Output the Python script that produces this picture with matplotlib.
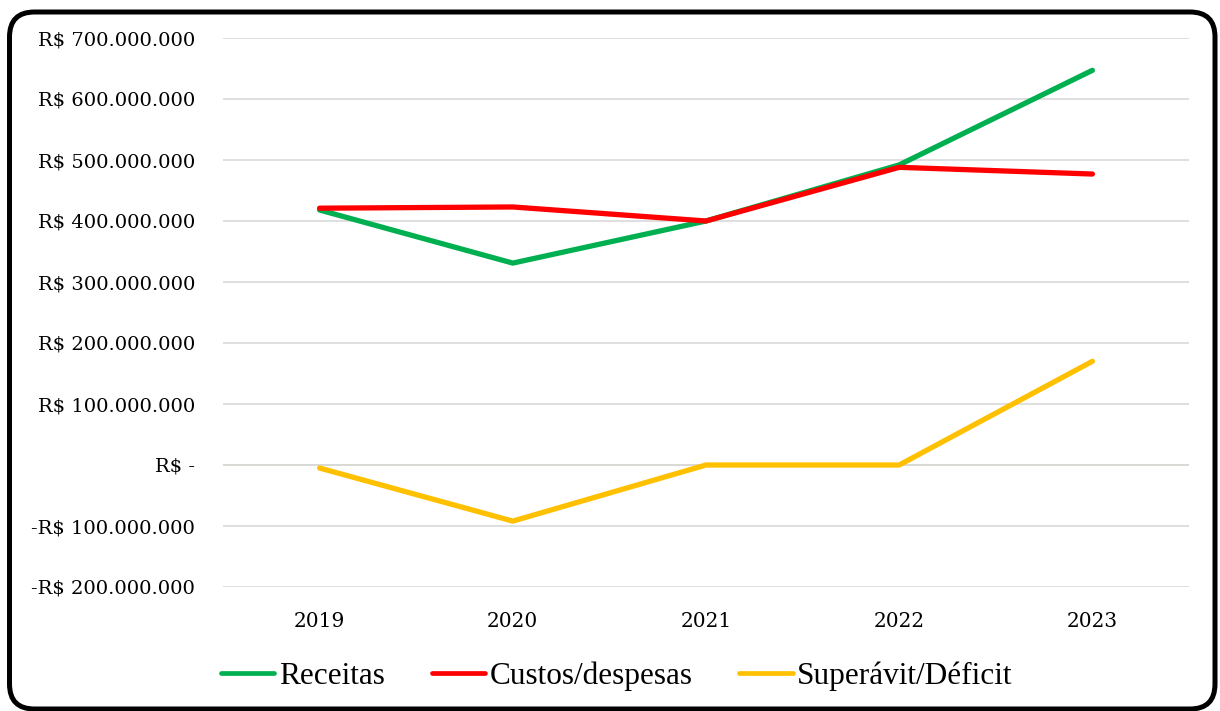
import matplotlib
matplotlib.use("Agg")
import matplotlib.pyplot as plt
from matplotlib.patches import FancyBboxPatch
from matplotlib.ticker import FuncFormatter

years = ["2019", "2020", "2021", "2022", "2023"]
receitas = [418e6, 331e6, 400e6, 492e6, 647e6]
custos = [421e6, 423e6, 400e6, 488e6, 477e6]
superavit = [-5e6, -92e6, 0, 0, 170e6]
yticks = [-200e6, -100e6, 0, 100e6, 200e6, 300e6, 400e6, 500e6, 600e6, 700e6]


def brl(v, pos=None):
    if v == 0:
        return "R$ -"
    s = f"{abs(v):,.0f}".replace(",", ".")
    return ("-R$ " if v < 0 else "R$ ") + s


fig = plt.figure(figsize=(12.2, 7.11), dpi=100)
ax = fig.add_axes([223 / 1220, 124 / 711, 966 / 1220, 549 / 711])

x = range(len(years))
ax.plot(x, receitas, color="#00B050", lw=3.8, solid_capstyle="round", solid_joinstyle="round",
        label="Receitas", zorder=3)
ax.plot(x, custos, color="#FF0000", lw=3.8, solid_capstyle="round", solid_joinstyle="round",
        label="Custos/despesas", zorder=4)
ax.plot(x, superavit, color="#FFC000", lw=3.8, solid_capstyle="round", solid_joinstyle="round",
        label="Superávit/Déficit", zorder=3)

ax.set_xlim(-0.5, len(years) - 0.5)
ax.set_ylim(yticks[0], yticks[-1])
ax.set_yticks(yticks)
ax.yaxis.set_major_formatter(FuncFormatter(brl))
ax.set_xticks(list(x))
ax.set_xticklabels(years)
ax.grid(axis="y", color="#d9d9d9", lw=1.2, zorder=0)
ax.axhline(0, color="#ddd8c4", lw=1.4, zorder=1)
for s in ax.spines.values():
    s.set_visible(False)
ax.tick_params(axis="y", length=0, labelsize=14, pad=20)
ax.tick_params(axis="x", length=0, labelsize=14.5, pad=18)
for t in ax.get_xticklabels() + ax.get_yticklabels():
    t.set_family("DejaVu Serif")

leg = fig.legend(loc="center", bbox_to_anchor=(617 / 1220, 1 - 676 / 711), ncol=3, frameon=False,
                 prop={"family": "Liberation Serif", "size": 22.5},
                 handlelength=1.7, handletextpad=0.15, columnspacing=1.5)
for h in leg.get_lines():
    h.set_linewidth(3.4)

# rounded frame around the chart
fig.patches.append(FancyBboxPatch((0.095, 0.02), 12.15 - 0.095, 6.99 - 0.02,
                                  boxstyle="round,pad=0,rounding_size=0.25",
                                  transform=fig.dpi_scale_trans, fill=False,
                                  ec="black", lw=3.6, zorder=10))

fig.savefig("out.png", dpi=100)
